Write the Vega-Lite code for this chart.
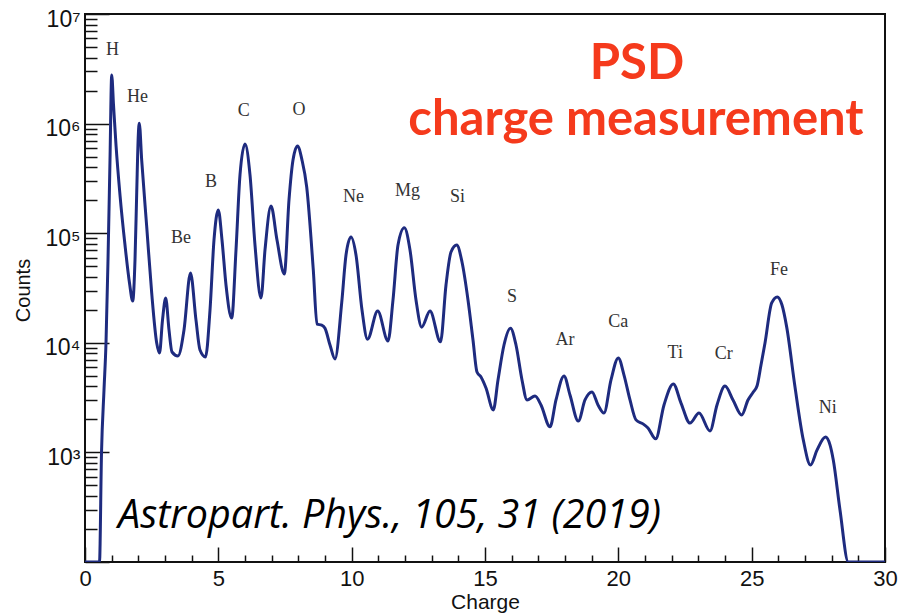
{
  "$schema": "https://vega.github.io/schema/vega-lite/v6.json",
  "width": 800,
  "height": 548,
  "autosize": {"type": "none"},
  "padding": {"left": 85, "top": 14, "right": 14, "bottom": 52},
  "background": "white",
  "config": {"view": {"stroke": "#111", "strokeWidth": 2}},
  "resolve": {"axis": {"x": "independent", "y": "independent"}},
  "layer": [
    {
      "data": {"values": [
        {"charge": 0, "counts": 100}, {"charge": 0.544, "counts": 100}, {"charge": 0.619, "counts": 988},
        {"charge": 0.7125, "counts": 3710}, {"charge": 0.7875, "counts": 9960}, {"charge": 0.8625, "counts": 56900},
        {"charge": 0.9375, "counts": 465000}, {"charge": 1.001, "counts": 2780000},
        {"charge": 1.069, "counts": 1480000}, {"charge": 1.1625, "counts": 638000}, {"charge": 1.3125, "counts": 223000},
        {"charge": 1.5, "counts": 78000}, {"charge": 1.6688, "counts": 35100},
        {"charge": 1.789, "counts": 24100}, {"charge": 1.875, "counts": 56900},
        {"charge": 1.939, "counts": 233000}, {"charge": 1.999, "counts": 787000}, {"charge": 2.036, "counts": 1010000},
        {"charge": 2.126, "counts": 465000}, {"charge": 2.314, "counts": 115000}, {"charge": 2.501, "counts": 28500},
        {"charge": 2.689, "counts": 9960}, {"charge": 2.794, "counts": 8070}, {"charge": 2.906, "counts": 16100},
        {"charge": 3.026, "counts": 25600}, {"charge": 3.15, "counts": 13100}, {"charge": 3.2625, "counts": 8240},
        {"charge": 3.4875, "counts": 7580}, {"charge": 3.7125, "counts": 13100}, {"charge": 3.956, "counts": 43300},
        {"charge": 4.1625, "counts": 16100}, {"charge": 4.3125, "counts": 8600}, {"charge": 4.519, "counts": 7420},
        {"charge": 4.6875, "counts": 19900}, {"charge": 4.8375, "counts": 86700}, {"charge": 4.999, "counts": 163000},
        {"charge": 5.1375, "counts": 86700}, {"charge": 5.2875, "counts": 33700}, {"charge": 5.501, "counts": 16800},
        {"charge": 5.6625, "counts": 70300}, {"charge": 5.8125, "counts": 340000}, {"charge": 6.0, "counts": 651000},
        {"charge": 6.1875, "counts": 340000}, {"charge": 6.375, "counts": 78000}, {"charge": 6.6, "counts": 25600},
        {"charge": 6.75, "counts": 70300}, {"charge": 6.975, "counts": 177000}, {"charge": 7.2, "counts": 86700},
        {"charge": 7.474, "counts": 42400}, {"charge": 7.65, "counts": 201000}, {"charge": 7.8, "counts": 465000},
        {"charge": 7.969, "counts": 625000}, {"charge": 8.1375, "counts": 465000}, {"charge": 8.314, "counts": 264000},
        {"charge": 8.561, "counts": 46200}, {"charge": 8.7, "counts": 14800}, {"charge": 8.876, "counts": 14500},
        {"charge": 9.0, "counts": 13600}, {"charge": 9.1875, "counts": 9550}, {"charge": 9.375, "counts": 7120},
        {"charge": 9.626, "counts": 23100}, {"charge": 9.7875, "counts": 63300}, {"charge": 9.975, "counts": 92300},
        {"charge": 10.1625, "counts": 63300}, {"charge": 10.3875, "counts": 19900}, {"charge": 10.594, "counts": 10800},
        {"charge": 10.976, "counts": 19500}, {"charge": 11.3625, "counts": 10400}, {"charge": 11.55, "counts": 24600},
        {"charge": 11.7375, "counts": 78000}, {"charge": 11.974, "counts": 112000}, {"charge": 12.1875, "counts": 70300},
        {"charge": 12.4125, "counts": 24600}, {"charge": 12.626, "counts": 13900}, {"charge": 12.9375, "counts": 19500},
        {"charge": 13.331, "counts": 10200}, {"charge": 13.5375, "counts": 33700}, {"charge": 13.725, "counts": 67400},
        {"charge": 13.939, "counts": 78000}, {"charge": 14.1375, "counts": 54600}, {"charge": 14.3625, "counts": 24600},
        {"charge": 14.55, "counts": 10600}, {"charge": 14.7, "counts": 5410}, {"charge": 14.85, "counts": 4880},
        {"charge": 15.0375, "counts": 3870}, {"charge": 15.311, "counts": 2440}, {"charge": 15.4875, "counts": 4580},
        {"charge": 15.7125, "counts": 9550}, {"charge": 15.956, "counts": 13600}, {"charge": 16.1625, "counts": 9550},
        {"charge": 16.3875, "counts": 4580}, {"charge": 16.575, "counts": 3010}, {"charge": 16.875, "counts": 3270},
        {"charge": 17.1, "counts": 2710}, {"charge": 17.4375, "counts": 1710}, {"charge": 17.6625, "counts": 3010},
        {"charge": 17.9625, "counts": 4980}, {"charge": 18.1875, "counts": 3340}, {"charge": 18.499, "counts": 1930},
        {"charge": 18.75, "counts": 3010}, {"charge": 19.0125, "counts": 3560}, {"charge": 19.2375, "counts": 2710},
        {"charge": 19.4625, "counts": 2290}, {"charge": 19.725, "counts": 4580}, {"charge": 19.999, "counts": 7270},
        {"charge": 20.2125, "counts": 5080}, {"charge": 20.4375, "counts": 3010}, {"charge": 20.6625, "counts": 1980},
        {"charge": 20.925, "counts": 1820}, {"charge": 21.1125, "counts": 1670}, {"charge": 21.401, "counts": 1330},
        {"charge": 21.7125, "counts": 2710}, {"charge": 22.061, "counts": 4210}, {"charge": 22.35, "counts": 2820},
        {"charge": 22.6875, "counts": 1850}, {"charge": 23.025, "counts": 2290}, {"charge": 23.4375, "counts": 1570},
        {"charge": 23.7, "counts": 2710}, {"charge": 24.0, "counts": 4030}, {"charge": 24.3, "counts": 3010},
        {"charge": 24.626, "counts": 2190}, {"charge": 24.8625, "counts": 3010}, {"charge": 25.061, "counts": 3560},
        {"charge": 25.2, "counts": 4030}, {"charge": 25.35, "counts": 6270}, {"charge": 25.5, "counts": 9960},
        {"charge": 25.751, "counts": 23100}, {"charge": 25.961, "counts": 26200}, {"charge": 26.1375, "counts": 22100},
        {"charge": 26.314, "counts": 13900}, {"charge": 26.625, "counts": 3950}, {"charge": 26.936, "counts": 1300},
        {"charge": 27.206, "counts": 767}, {"charge": 27.45, "counts": 1050}, {"charge": 27.769, "counts": 1380},
        {"charge": 27.9375, "counts": 1170}, {"charge": 28.061, "counts": 852}, {"charge": 28.3125, "counts": 298},
        {"charge": 28.624, "counts": 100}, {"charge": 30, "counts": 100}
      ]},
      "mark": {"type": "line", "interpolate": "monotone", "color": "#1e2b7f", "strokeWidth": 3, "clip": true},
      "encoding": {
        "x": {"field": "charge", "type": "quantitative",
          "scale": {"domain": [0, 30], "nice": false, "zero": false},
          "axis": {"orient": "bottom", "values": [0, 5, 10, 15, 20, 25, 30], "ticks": false, "domain": false, "grid": false,
            "labelFont": "Liberation Sans, Arial", "labelFontSize": 22, "labelColor": "#111",
            "labelBaseline": "alphabetic", "labelPadding": 23, "labelFlush": false, "labelOverlap": false, "labelBound": false,
            "title": "Charge", "titleFont": "Liberation Sans, Arial", "titleFontSize": 21, "titleFontWeight": "normal",
            "titleColor": "#111", "titleBaseline": "alphabetic", "titleX": 400, "titleY": 46}},
        "y": {"field": "counts", "type": "quantitative",
          "scale": {"type": "log", "domain": [100, 10000000], "nice": false},
          "axis": {"orient": "left", "values": [1000, 10000, 100000, 1000000, 10000000], "ticks": false, "domain": false, "grid": false,
            "labelExpr": "'10' + ['⁰','¹','²','³','⁴','⁵','⁶','⁷'][round(log(datum.value)/LN10)]",
            "labelFont": "Liberation Sans, Arial", "labelFontSize": 23, "labelColor": "#111",
            "labelBaseline": "alphabetic", "labelAlign": "right", "labelOffset": 12, "labelPadding": 5,
            "labelOverlap": false, "labelBound": false, "labelFlush": false,
            "title": "Counts", "titleFont": "Liberation Sans, Arial", "titleFontSize": 20, "titleFontWeight": "normal",
            "titleColor": "#111", "titleBaseline": "alphabetic", "titleAngle": -90, "titleX": -56, "titleY": 276}}
      }
    },
    {
      "data": {"values": [
        {"label": "H", "charge": 1.031, "counts": 4230000},
        {"label": "He", "charge": 1.969, "counts": 1580000},
        {"label": "Be", "charge": 3.6, "counts": 81900},
        {"label": "B", "charge": 4.725, "counts": 264000},
        {"label": "C", "charge": 5.951, "counts": 1170000},
        {"label": "O", "charge": 8.025, "counts": 1200000},
        {"label": "Ne", "charge": 10.069, "counts": 191000},
        {"label": "Mg", "charge": 12.094, "counts": 218000},
        {"label": "Si", "charge": 13.969, "counts": 191000},
        {"label": "S", "charge": 16.0125, "counts": 23700},
        {"label": "Ar", "charge": 18.0, "counts": 9550},
        {"label": "Ca", "charge": 19.999, "counts": 13800},
        {"label": "Ti", "charge": 22.136, "counts": 7220},
        {"label": "Cr", "charge": 23.955, "counts": 7070},
        {"label": "Fe", "charge": 26.025, "counts": 41600},
        {"label": "Ni", "charge": 27.851, "counts": 2300}
      ]},
      "mark": {"type": "text", "font": "Liberation Serif, Times New Roman, serif", "fontSize": 18, "color": "#333", "align": "center", "baseline": "alphabetic"},
      "encoding": {
        "x": {"field": "charge", "type": "quantitative", "scale": {"domain": [0, 30], "nice": false, "zero": false},
          "axis": {"orient": "bottom", "values": [0, 5, 10, 15, 20, 25, 30], "labels": false, "domain": false, "grid": false,
            "ticks": true, "tickSize": -15, "tickWidth": 1.5, "tickColor": "#111", "title": null}},
        "y": {"field": "counts", "type": "quantitative", "scale": {"type": "log", "domain": [100, 10000000], "nice": false},
          "axis": {"orient": "left", "values": [100, 1000, 10000, 100000, 1000000, 10000000], "labels": false, "domain": false, "grid": false,
            "ticks": true, "tickSize": -24, "tickWidth": 1.5, "tickColor": "#111", "title": null}},
        "text": {"field": "label"}
      }
    },
    {
      "data": {"values": [{"note": "PSD", "charge": 20.7, "counts": 2550000}]},
      "mark": {"type": "text", "font": "Lato", "fontWeight": "bold", "fontSize": 49, "color": "#f53a1c", "align": "center", "baseline": "alphabetic"},
      "encoding": {
        "x": {"field": "charge", "type": "quantitative", "scale": {"domain": [0, 30], "nice": false, "zero": false},
          "axis": {"orient": "bottom", "values": [1, 2, 3, 4, 6, 7, 8, 9, 11, 12, 13, 14, 16, 17, 18, 19, 21, 22, 23, 24, 26, 27, 28, 29],
            "labels": false, "domain": false, "grid": false, "ticks": true, "tickSize": -7, "tickWidth": 1.5, "tickColor": "#111", "title": null}},
        "y": {"field": "counts", "type": "quantitative", "scale": {"type": "log", "domain": [100, 10000000], "nice": false},
          "axis": {"orient": "left", "values": [200, 300, 400, 500, 600, 700, 800, 900, 2000, 3000, 4000, 5000, 6000, 7000, 8000, 9000, 20000, 30000, 40000, 50000, 60000, 70000, 80000, 90000, 200000, 300000, 400000, 500000, 600000, 700000, 800000, 900000, 2000000, 3000000, 4000000, 5000000, 6000000, 7000000, 8000000, 9000000],
            "labels": false, "domain": false, "grid": false, "ticks": true, "tickSize": -12, "tickWidth": 1.5, "tickColor": "#111", "title": null}},
        "text": {"field": "note"}
      }
    },
    {
      "data": {"values": [{"note": "charge measurement", "charge": 20.66, "counts": 787000}]},
      "mark": {"type": "text", "font": "Lato", "fontWeight": "bold", "fontSize": 49, "color": "#f53a1c", "align": "center", "baseline": "alphabetic"},
      "encoding": {
        "x": {"field": "charge", "type": "quantitative", "scale": {"domain": [0, 30], "nice": false, "zero": false}, "axis": null},
        "y": {"field": "counts", "type": "quantitative", "scale": {"type": "log", "domain": [100, 10000000], "nice": false}, "axis": null},
        "text": {"field": "note"}
      }
    },
    {
      "data": {"values": [{"note": "Astropart. Phys., 105, 31 (2019)", "charge": 1.2375, "counts": 203}]},
      "mark": {"type": "text", "font": "Open Sans", "fontStyle": "italic", "fontSize": 39.5, "color": "#000", "align": "left", "baseline": "alphabetic"},
      "encoding": {
        "x": {"field": "charge", "type": "quantitative", "scale": {"domain": [0, 30], "nice": false, "zero": false}, "axis": null},
        "y": {"field": "counts", "type": "quantitative", "scale": {"type": "log", "domain": [100, 10000000], "nice": false}, "axis": null},
        "text": {"field": "note"}
      }
    }
  ]
}
